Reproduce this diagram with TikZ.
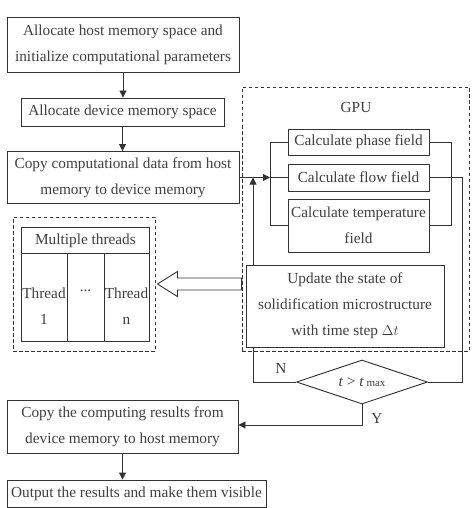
\documentclass[tikz,border=0pt]{standalone}
\usepackage{fontspec}
\setmainfont{Liberation Serif}
\usetikzlibrary{arrows.meta,shapes.geometric,backgrounds,calc}
\begin{document}
\begin{tikzpicture}[x=1pt,y=-1pt,
  every node/.style={font=\fontsize{15.3}{26}\selectfont, text=black!75, inner sep=0pt, align=center},
  box/.style={draw=black!80, line width=0.9pt, rectangle, fill=white},
  conn/.style={draw=black!80, line width=0.9pt},
  arr/.style={conn, -{Triangle[length=7pt,width=7pt]}},
  dbox/.style={draw=black!80, line width=0.9pt, dash pattern=on 3.5pt off 2.5pt}]
\useasboundingbox (0,0) rectangle (474,508);

% dashed containers
\node[dbox, minimum width=142pt, minimum height=134pt] (thr) at (84,284) {};
\node[dbox, minimum width=227pt, minimum height=264pt] (gpu) at (355.5,219) {};
\node (gpulbl) at (356,108) {GPU};

% main flow
\node[box, minimum width=232pt, minimum height=55pt] (b1) at (123,44.5) {Allocate host memory space and\\initialize computational parameters};
\node[box, minimum width=203pt, minimum height=28pt] (b2) at (122.5,112) {Allocate device memory space};
\node[box, minimum width=232pt, minimum height=52pt] (b3) at (123,177.5) {Copy computational data from host\\memory to device memory};

% GPU kernels
\node[box, minimum width=141pt, minimum height=26pt] (ph) at (358.5,142) {Calculate phase field};
\node[box, minimum width=141pt, minimum height=27pt] (fl) at (358.5,177.5) {Calculate flow field};
\node[box, minimum width=141pt, minimum height=53pt] (tp) at (358.5,225.5) {Calculate temperature\\field};
\node[box, minimum width=198pt, minimum height=82pt] (up) at (345,306) {Update the state of\\solidification microstructure\\with time step $\Delta t$};

% decision
\node[draw=black!80, line width=0.9pt, diamond, aspect=3, minimum width=131pt, minimum height=44pt] (dia) at (362,382) {\textit{t} > \textit{t}\,{\fontsize{11}{11}\selectfont max}};
\node (nlbl) at (281,368) {N};
\node (ylbl) at (377,418) {Y};

\node[box, minimum width=231pt, minimum height=53pt] (b4) at (122.5,426.5) {Copy the computing results from\\device memory to host memory};
\node[box, minimum width=259pt, minimum height=27pt] (b5) at (136.5,493.5) {Output the results and make them visible};

% threads table
\node[box, minimum width=128pt, minimum height=26pt, anchor=north west] (hdr) at (21,227) {Multiple threads};
\node[box, minimum width=46pt, minimum height=88pt, anchor=north west] (c1) at (21,253) {};
\node[box, minimum width=37pt, minimum height=88pt, anchor=north west] (c2) at (67,253) {};
\node[box, minimum width=45pt, minimum height=88pt, anchor=north west] (c3) at (104,253) {};
\node (t1) at (44,306) {Thread\\1};
\node (t2) at (85.5,291) {...};
\node (t3) at (126.5,306) {Thread\\n};

% coordinates for connector routing
\coordinate (bl) at (270,0);
\coordinate (br) at (451,0);
\coordinate (fr) at (462,0);
\coordinate (lp) at (253,0);
\coordinate (yc) at (0,425);

% connectors
\draw[arr] (b1.south) -- (b1.south |- b2.north);
\draw[arr] (b2.south) -- (b2.south |- b3.north);
\draw[conn] (ph.west) -- (ph.west -| bl) -- (tp.west -| bl) -- (tp.west);
\draw[conn] (fl.west) -- (fl.west -| bl);
\draw[arr] (b3.east) -- (b3.east -| bl);
\draw[conn] (ph.east) -- (ph.east -| br) -- (tp.east -| br) -- (tp.east);
\draw[conn] (fl.east) -- (fl.east -| fr) -- (dia.east -| fr) -- (dia.east);
\begin{pgfonlayer}{background}
\draw[arr] (dia.west) -- (dia.west -| lp) -- (b3.east -| lp);
\end{pgfonlayer}
\draw[arr] (dia.south) -- (dia.south |- yc) -- (yc -| b4.east);
\draw[arr] (b4.south) -- (b4.south |- b5.north);

% hollow arrow from GPU to threads
\coordinate (ha) at (thr.east -| gpu.west);
\draw[conn, fill=white] ($(thr.east)+(2,0)$) -- ++(20,-12.5) -- ++(0,6.5)
  -- ($(ha)+(0,-6)$) -- ($(ha)+(0,6)$)
  -- ($(thr.east)+(22,6)$) -- ++(0,6.5) -- cycle;
\end{tikzpicture}
\end{document}
